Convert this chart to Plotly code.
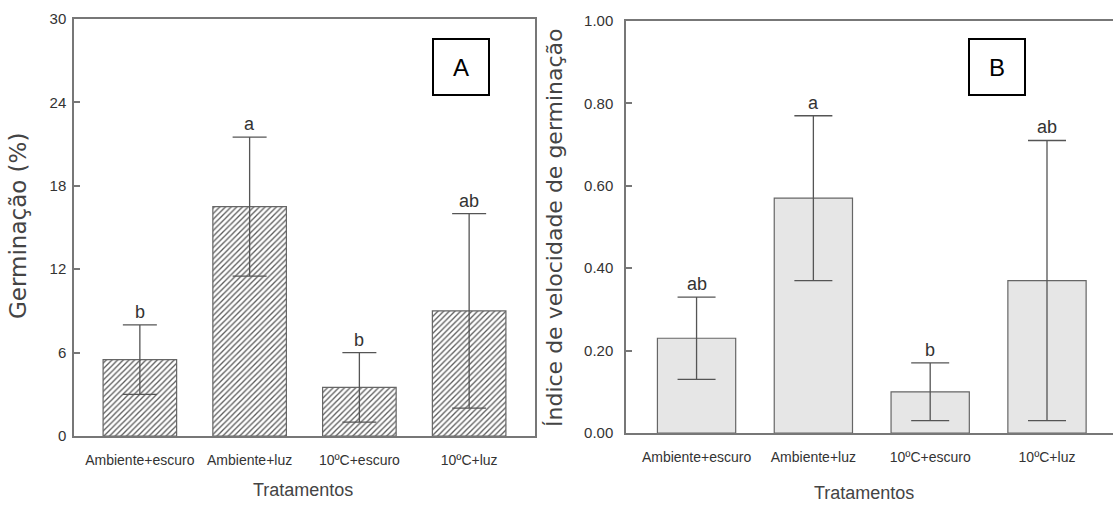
import plotly.graph_objects as go

# ---------------- data ----------------
categories = ["Ambiente+escuro", "Ambiente+luz", "10ºC+escuro", "10ºC+luz"]

germ_mean = [5.5, 16.5, 3.5, 9.0]
germ_upper = [8.0, 21.5, 6.0, 16.0]
germ_lower = [3.0, 11.5, 1.0, 2.0]
germ_letters = ["b", "a", "b", "ab"]
germ_ticks = [0, 6, 12, 18, 24, 30]

ivg_mean = [0.23, 0.57, 0.10, 0.37]
ivg_upper = [0.33, 0.77, 0.17, 0.71]
ivg_lower = [0.13, 0.37, 0.03, 0.03]
ivg_letters = ["ab", "a", "b", "ab"]
ivg_ticks = [0.0, 0.2, 0.4, 0.6, 0.8, 1.0]

# ---------------- styling ----------------
W, H = 1113, 506
SANS = "Liberation Sans, Arial, sans-serif"
WIDE = "DejaVu Sans, Liberation Sans, sans-serif"
TXT = "#333333"
LINE = "#777777"
ERR = "#555555"

xs = list(range(len(categories)))


def px_x(p):
    return p / W


def px_y(p):
    return 1 - p / H


fig = go.Figure()

# Panel A bars (hatched)
fig.add_trace(go.Bar(
    x=xs, y=germ_mean, width=0.67,
    marker=dict(color="white",
                line=dict(color="#666666", width=1.2),
                pattern=dict(shape="/", fgcolor="#5c5c5c", bgcolor="white",
                             size=4, solidity=0.33)),
    error_y=dict(type="data", symmetric=False,
                 array=[u - m for u, m in zip(germ_upper, germ_mean)],
                 arrayminus=[m - l for m, l in zip(germ_mean, germ_lower)],
                 color=ERR, thickness=1.3, width=17),
    xaxis="x", yaxis="y", showlegend=False, hoverinfo="skip",
))

# Panel B bars (light grey)
fig.add_trace(go.Bar(
    x=xs, y=ivg_mean, width=0.67,
    marker=dict(color="#e6e6e6", line=dict(color="#666666", width=1.2)),
    error_y=dict(type="data", symmetric=False,
                 array=[u - m for u, m in zip(ivg_upper, ivg_mean)],
                 arrayminus=[m - l for m, l in zip(ivg_mean, ivg_lower)],
                 color=ERR, thickness=1.3, width=19),
    xaxis="x2", yaxis="y2", showlegend=False, hoverinfo="skip",
))

annotations = []
for i, (u, t) in enumerate(zip(germ_upper, germ_letters)):
    annotations.append(dict(x=i, y=u, xref="x", yref="y", text=t, showarrow=False,
                            xanchor="center", yanchor="bottom", yshift=1,
                            font=dict(family=SANS, size=18, color=TXT)))
for i, (u, t) in enumerate(zip(ivg_upper, ivg_letters)):
    annotations.append(dict(x=i, y=u, xref="x2", yref="y2", text=t, showarrow=False,
                            xanchor="center", yanchor="bottom", yshift=1,
                            font=dict(family=SANS, size=18, color=TXT)))

# panel letters in boxes
annotations.append(dict(x=0.839, y=0.886, xref="x domain", yref="y domain", text="A",
                        xanchor="center", yanchor="middle",
                        showarrow=False, width=54, height=54, borderpad=0,
                        bordercolor="black", borderwidth=2, bgcolor="white",
                        font=dict(family=SANS, size=24, color="black")))
annotations.append(dict(x=0.762, y=0.889, xref="x2 domain", yref="y2 domain", text="B",
                        xanchor="center", yanchor="middle",
                        showarrow=False, width=54, height=54, borderpad=0,
                        bordercolor="black", borderwidth=2, bgcolor="white",
                        font=dict(family=SANS, size=24, color="black")))

# axis titles
annotations.append(dict(x=px_x(18), y=px_y(226), xref="paper", yref="paper",
                        xanchor="center", yanchor="middle",
                        text="Germinação (%)", textangle=-90, showarrow=False,
                        font=dict(family=WIDE, size=23, color="#444444")))
annotations.append(dict(x=px_x(554), y=px_y(228), xref="paper", yref="paper",
                        xanchor="center", yanchor="middle",
                        text="Índice de velocidade de germinação", textangle=-90, showarrow=False,
                        font=dict(family=WIDE, size=22, color="#444444")))
annotations.append(dict(x=px_x(303), y=px_y(490), xref="paper", yref="paper",
                        xanchor="center", yanchor="middle",
                        text="Tratamentos", showarrow=False,
                        font=dict(family=SANS, size=18, color="#444444")))
annotations.append(dict(x=px_x(864), y=px_y(493), xref="paper", yref="paper",
                        xanchor="center", yanchor="middle",
                        text="Tratamentos", showarrow=False,
                        font=dict(family=SANS, size=18, color="#444444")))

axis_common = dict(showgrid=False, zeroline=False, linecolor=LINE, linewidth=1.5,
                   automargin=False)

fig.update_layout(
    template="none",
    width=W, height=H,
    margin=dict(l=0, r=0, t=0, b=0, pad=0),
    paper_bgcolor="white", plot_bgcolor="white",
    barmode="overlay",
    xaxis=dict(domain=[px_x(74), px_x(535)], range=[-0.6, 3.6], anchor="y",
               tickvals=xs, ticktext=categories, ticks="", showline=True, mirror=True,
               tickangle=0, ticklabelstandoff=10,
               tickfont=dict(family=SANS, size=14, color=TXT), **axis_common),
    yaxis=dict(domain=[px_y(436), px_y(19)], range=[0, 30], anchor="x",
               tickvals=germ_ticks, ticktext=[str(v) for v in germ_ticks],
               ticks="inside", ticklen=6, tickcolor=LINE, tickwidth=1.5,
               showline=True, mirror=True, ticklabelstandoff=3,
               tickfont=dict(family=SANS, size=15, color=TXT), **axis_common),
    xaxis2=dict(domain=[px_x(626), 1.0], range=[-0.604, 3.565], anchor="y2",
                tickvals=xs, ticktext=categories, ticks="", showline=True, mirror=True,
                tickangle=0, ticklabelstandoff=10,
                tickfont=dict(family=SANS, size=14, color=TXT), **axis_common),
    yaxis2=dict(domain=[px_y(433), px_y(21)], range=[0, 1.0], anchor="x2",
                tickvals=ivg_ticks, ticktext=[f"{v:.2f}" for v in ivg_ticks],
                ticks="inside", ticklen=6, tickcolor=LINE, tickwidth=1.5,
                showline=True, mirror=False, ticklabelstandoff=8,
                tickfont=dict(family=SANS, size=15, color=TXT), **axis_common),
    annotations=annotations,
)

fig.write_html("out.html")
